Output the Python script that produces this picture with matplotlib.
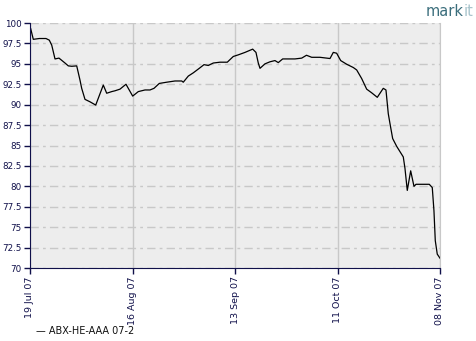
import pandas as pd
import matplotlib.pyplot as plt

# 数据：距 2007-07-19 的天数，以及价格
days = [0.19, 0.90, 2.54, 4.37, 5.27, 5.93, 6.83, 7.92, 9.56, 10.46, 11.39, 12.76,
        13.66, 14.12, 15.02, 16.39, 17.95, 20.02, 20.95, 22.32, 23.22, 24.58, 26.22,
        28.05, 29.58, 31.41, 32.78, 33.87, 35.32, 37.34, 39.61, 41.44, 41.87, 43.24,
        44.61, 46.24, 47.53, 48.70, 50.07, 51.90, 53.89, 55.53, 56.90, 58.73, 60.83,
        61.73, 62.36, 62.83, 64.19, 65.56, 66.92, 67.82, 69.02, 70.55, 72.38, 74.22,
        75.53, 76.95, 79.21, 81.95, 82.85, 83.77, 84.87, 86.51, 88.31, 89.24, 90.60,
        91.97, 93.34, 94.87, 96.50, 97.24, 97.87, 98.33, 99.07, 100.16, 101.97, 102.43,
        103.06, 103.99, 104.89, 105.44, 109.07, 109.89, 110.35, 110.71, 111.25, 112.0]
price = [99.3, 98.0, 98.1, 98.1, 97.9, 97.3, 95.6, 95.7, 95.1, 94.75, 94.7, 94.75,
         93.0, 92.0, 90.65, 90.35, 89.95, 92.4, 91.4, 91.6, 91.7, 91.9, 92.5,
         91.05, 91.6, 91.8, 91.8, 92.0, 92.6, 92.75, 92.9, 92.9, 92.75, 93.5,
         93.9, 94.45, 94.9, 94.8, 95.1, 95.2, 95.2, 95.9, 96.1, 96.4, 96.8,
         96.4, 95.1, 94.45, 95.0, 95.25, 95.4, 95.15, 95.6, 95.6, 95.6, 95.7,
         96.05, 95.8, 95.8, 95.65, 96.4, 96.3, 95.4, 94.95, 94.55, 94.25, 93.2,
         91.9, 91.45, 90.9, 92.0, 91.8, 88.9, 87.7, 85.85, 84.9, 83.6, 82.2,
         79.5, 81.9, 80.0, 80.25, 80.25, 79.85, 77.0, 73.35, 71.7, 71.2]

tick_dates = ['2007-07-19', '2007-08-16', '2007-09-13', '2007-10-11', '2007-11-08']
tick_labels = ['19 Jul 07', '16 Aug 07', '13 Sep 07', '11 Oct 07', '08 Nov 07']
y_ticks = [70, 72.5, 75, 77.5, 80, 82.5, 85, 87.5, 90, 92.5, 95, 97.5, 100]
y_labels = ['70', '72.5', '75', '77.5', '80', '82.5', '85', '87.5', '90', '92.5', '95', '97.5', '100']
series_name = 'ABX-HE-AAA 07-2'

start = pd.Timestamp('2007-07-19')
x = start + pd.to_timedelta(days, unit='D')
tx = pd.to_datetime(tick_dates)

navy = '#10104a'
fig = plt.figure(figsize=(4.77, 3.41), dpi=100)
ax = fig.add_axes([30/477, 1-268/341, 410/477, 245/341])
ax.set_facecolor('#ededed')

ax.plot(x, price, color='black', lw=0.9)

ax.set_xlim(tx[0], tx[-1])
ax.set_ylim(70, 100)
ax.set_xticks(tx)
ax.set_xticklabels(tick_labels, rotation=90, fontsize=6.8, color=navy)
ax.set_yticks(y_ticks)
ax.set_yticklabels(y_labels, fontsize=6.3, color=navy)

# 网格线
ax.grid(axis='y', color='#c8c8c8', linestyle=(0, (6, 3, 2, 3)), lw=1)
ax.grid(axis='x', color='#c8c8c8', linestyle='-', lw=1)
ax.set_axisbelow(True)

ax.spines['top'].set_visible(False)
ax.spines['right'].set_color('#c8c8c8')
ax.spines['left'].set_color(navy)
ax.spines['bottom'].set_color(navy)
ax.tick_params(axis='both', colors=navy, length=4, width=1, pad=2)

fig.text(36/477, 1-331/341, '\u2014 ' + series_name, fontsize=7, color='#111111', va='center')

# markit 标志
t = fig.text(426/477, 1-12/341, 'mark', fontsize=10.5, color='#3b6e7c', va='center')
ax.annotate('it', xy=(1, 0.5), xycoords=t, fontsize=10.5, color='#a8c4cc',
            va='center', ha='left', annotation_clip=False)

plt.savefig('out.png', dpi=100)
